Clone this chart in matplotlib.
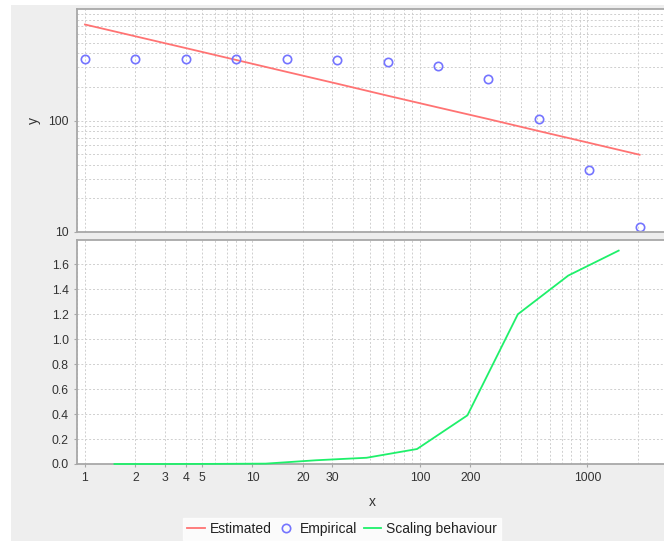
import numpy as np
import matplotlib.pyplot as plt
from matplotlib.patches import Rectangle
from matplotlib.ticker import FixedLocator, LogLocator, NullFormatter, FixedFormatter

plt.rcParams['font.family'] = ['Liberation Sans', 'DejaVu Sans']

# data
x_emp = [1, 2, 4, 8, 16, 32, 64, 128, 256, 512, 1024, 2048]
y_emp = [355, 355, 355, 355, 355, 347, 336, 309, 236, 103, 36.1, 11.1]
y_est = [726, 569, 446, 349, 273, 214, 167, 131, 103, 80.4, 63.0, 49.3]

x_scale = [1.5, 3, 6, 12, 24, 48, 96, 192, 384, 768, 1536]
y_scale = [0.0, 0.0, 0.001, 0.003, 0.03, 0.05, 0.12, 0.39, 1.20, 1.51, 1.71]

x_ticks = [1, 2, 3, 4, 5, 10, 20, 30, 100, 200, 1000]
x_ticklabels = ['1', '2', '3', '4', '5', '10', '20', '30', '100', '200', '1000']
y_top_ticks = [10, 100]
y_bot_ticks = [0.0, 0.2, 0.4, 0.6, 0.8, 1.0, 1.2, 1.4, 1.6]

red = '#ff7373'
blue = '#7474ff'
green = '#1ef06a'
spine_col = '#a8a8a8'
grid_col = '#cfcfcf'
text_col = '#333333'

W, H = 664, 541
fig = plt.figure(figsize=(W / 100, H / 100), dpi=100)
fig.patch.set_facecolor('white')
fig.patches.append(Rectangle((11 / W, 0), 1 - 11 / W, 1 - 5 / H, transform=fig.transFigure,
                             facecolor='#eeeeee', edgecolor='none', zorder=-10))

def px(l, t, r, b):
    return [l / W, 1 - b / H, (r - l) / W, (b - t) / H]

ax1 = fig.add_axes(px(77, 9, 668, 232))
ax2 = fig.add_axes(px(77, 240, 668, 464))

for ax in (ax1, ax2):
    ax.set_facecolor('white')
    ax.set_xscale('log')
    ax.set_xlim(0.896, 3026)
    for s in ax.spines.values():
        s.set_color(spine_col)
        s.set_linewidth(1.3)
    ax.xaxis.set_major_locator(FixedLocator(x_ticks))
    ax.xaxis.set_minor_locator(LogLocator(base=10, subs=np.arange(1, 10), numticks=20))
    ax.xaxis.set_minor_formatter(NullFormatter())
    ax.tick_params(which='major', length=2, color=spine_col, labelsize=8.8, labelcolor=text_col, pad=4)
    ax.tick_params(which='minor', length=0)
    ax.grid(True, which='both', axis='x', color=grid_col, linestyle=(0, (2, 2)), linewidth=0.7)
    ax.set_axisbelow(True)

# top panel
ax1.set_yscale('log')
ax1.set_ylim(10, 1000)
ax1.yaxis.set_major_locator(FixedLocator(y_top_ticks))
ax1.yaxis.set_major_formatter(FixedFormatter(['10', '100']))
ax1.yaxis.set_minor_locator(LogLocator(base=10, subs=np.arange(2, 10), numticks=20))
ax1.yaxis.set_minor_formatter(NullFormatter())
ax1.grid(True, which='both', axis='y', color=grid_col, linestyle=(0, (2, 2)), linewidth=0.7)
ax1.tick_params(axis='x', labelbottom=False, length=0)
ax1.plot(x_emp, y_est, color=red, linewidth=1.3, label='Estimated')
ax1.plot(x_emp, y_emp, linestyle='none', marker='o', markersize=6, markerfacecolor='none',
         markeredgecolor=blue, markeredgewidth=1.2, label='Empirical')
ax1.set_ylabel('y', fontsize=10, color=text_col, labelpad=5)

# bottom panel
ax2.set_ylim(0, 1.795)
ax2.yaxis.set_major_locator(FixedLocator(y_bot_ticks))
ax2.yaxis.set_major_formatter(FixedFormatter(['%.1f' % v for v in y_bot_ticks]))
ax2.grid(True, which='major', axis='y', color=grid_col, linestyle=(0, (2, 2)), linewidth=0.7)
ax2.xaxis.set_major_formatter(FixedFormatter(x_ticklabels))
ax2.plot(x_scale, y_scale, color=green, linewidth=1.3, label='Scaling behaviour',
         clip_on=False, zorder=5)
ax2.set_xlabel('x', fontsize=10, color=text_col, labelpad=8)

handles = ax1.get_lines() + ax2.get_lines()
leg = fig.legend(handles, [h.get_label() for h in handles], loc='center',
                 bbox_to_anchor=(342 / W, 1 - 529 / H), ncol=3, fontsize=10,
                 frameon=True, fancybox=False, handlelength=1.25, handletextpad=0.35,
                 columnspacing=0.45, borderpad=0.3, borderaxespad=0, labelcolor='#222222')
leg.get_frame().set_facecolor('white')
leg.get_frame().set_edgecolor('white')

fig.savefig('out.png', dpi=100)
